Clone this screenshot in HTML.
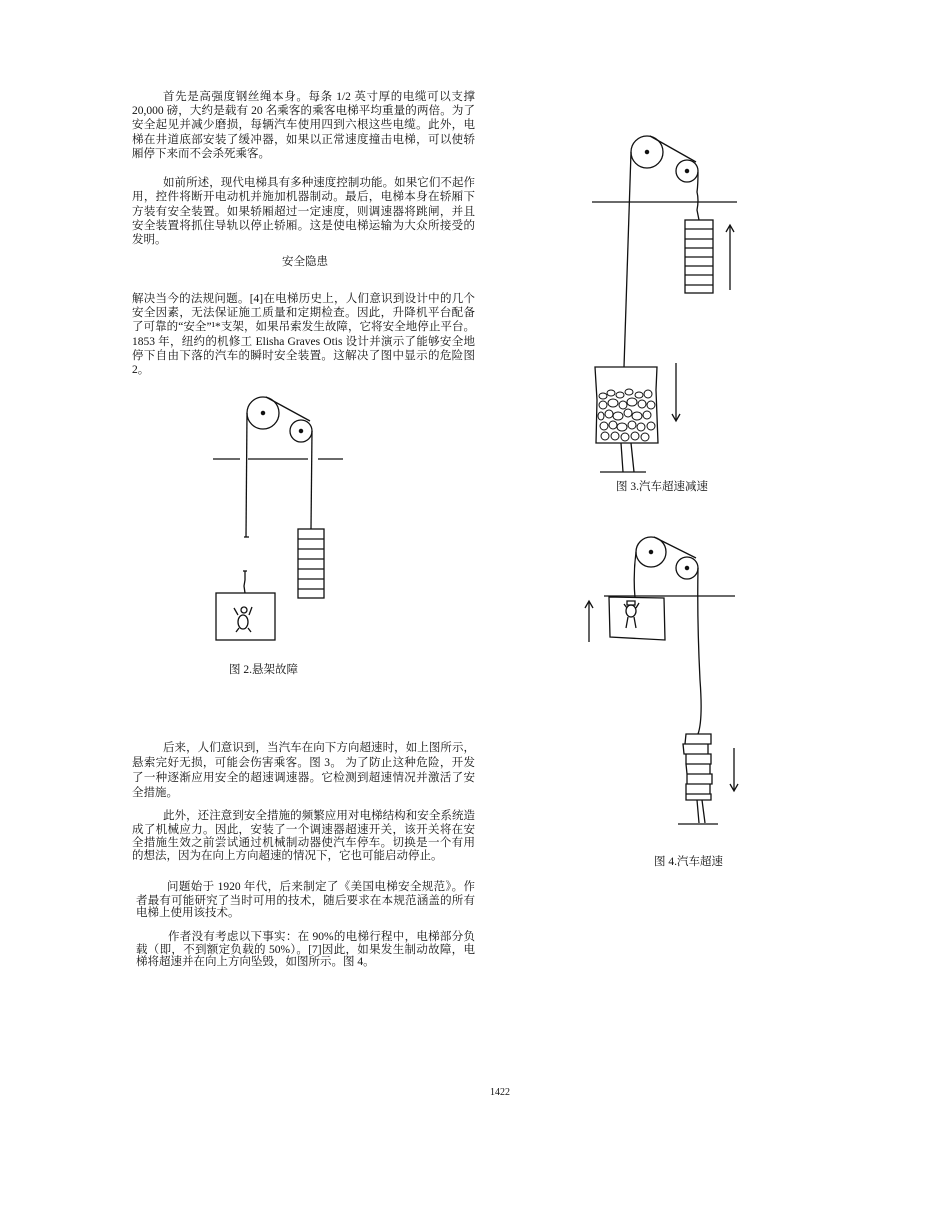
<!DOCTYPE html>
<html><head><meta charset="utf-8"><style>
body{margin:0;background:#fff;}
#p{position:relative;width:952px;height:1232px;overflow:hidden;font-family:"Liberation Serif","Noto Serif CJK SC","Noto Sans CJK SC",serif;font-size:11.5px;color:#111;}
.l{position:absolute;white-space:nowrap;line-height:14px;height:14px;}
.j{text-align:justify;text-align-last:justify;white-space:normal;overflow:hidden;}
svg{position:absolute;left:0;top:0;}
</style></head><body><div id="p">
<div class="l j" style="left:163px;top:90px;width:312px">首先是高强度钢丝绳本身。每条 1/2 英寸厚的电缆可以支撑</div>
<div class="l j" style="left:132px;top:104px;width:343px">20,000 磅，大约是载有 20 名乘客的乘客电梯平均重量的两倍。为了</div>
<div class="l j" style="left:132px;top:118px;width:343px">安全起见并减少磨损，每辆汽车使用四到六根这些电缆。此外，电</div>
<div class="l j" style="left:132px;top:133px;width:343px">梯在井道底部安装了缓冲器，如果以正常速度撞击电梯，可以使轿</div>
<div class="l" style="left:132px;top:147px">厢停下来而不会杀死乘客。</div>

<div class="l j" style="left:163px;top:176px;width:312px">如前所述，现代电梯具有多种速度控制功能。如果它们不起作</div>
<div class="l j" style="left:132px;top:190px;width:343px">用，控件将断开电动机并施加机器制动。最后，电梯本身在轿厢下</div>
<div class="l j" style="left:132px;top:205px;width:343px">方装有安全装置。如果轿厢超过一定速度，则调速器将跳闸，并且</div>
<div class="l j" style="left:132px;top:219px;width:343px">安全装置将抓住导轨以停止轿厢。这是使电梯运输为大众所接受的</div>
<div class="l" style="left:132px;top:233px">发明。</div>

<div class="l" style="left:282px;top:255px">安全隐患</div>

<div class="l j" style="left:132px;top:292px;width:343px">解决当今的法规问题。[4]在电梯历史上，人们意识到设计中的几个</div>
<div class="l j" style="left:132px;top:306px;width:343px">安全因素，无法保证施工质量和定期检查。因此，升降机平台配备</div>
<div class="l j" style="left:132px;top:320px;width:343px">了可靠的“安全”¹*支架，如果吊索发生故障，它将安全地停止平台。</div>
<div class="l j" style="left:132px;top:335px;width:343px">1853 年，纽约的机修工 Elisha Graves Otis 设计并演示了能够安全地</div>
<div class="l j" style="left:132px;top:349px;width:343px">停下自由下落的汽车的瞬时安全装置。这解决了图中显示的危险图</div>
<div class="l" style="left:132px;top:363px">2。</div>

<div class="l" style="left:229px;top:663px">图 2.悬架故障</div>
<div class="l" style="left:616px;top:480px">图 3.汽车超速减速</div>
<div class="l" style="left:654px;top:855px">图 4.汽车超速</div>

<div class="l j" style="left:163px;top:741px;width:312px">后来，人们意识到，当汽车在向下方向超速时，如上图所示，</div>
<div class="l j" style="left:132px;top:756px;width:343px">悬索完好无损，可能会伤害乘客。图 3。 为了防止这种危险，开发</div>
<div class="l j" style="left:132px;top:771px;width:343px">了一种逐渐应用安全的超速调速器。它检测到超速情况并激活了安</div>
<div class="l" style="left:132px;top:786px">全措施。</div>

<div class="l j" style="left:163px;top:809px;width:312px">此外，还注意到安全措施的频繁应用对电梯结构和安全系统造</div>
<div class="l j" style="left:132px;top:823px;width:343px">成了机械应力。因此，安装了一个调速器超速开关，该开关将在安</div>
<div class="l j" style="left:132px;top:836px;width:343px">全措施生效之前尝试通过机械制动器使汽车停车。切换是一个有用</div>
<div class="l" style="left:132px;top:849px">的想法，因为在向上方向超速的情况下，它也可能启动停止。</div>

<div class="l j" style="left:167px;top:880px;width:308px">问题始于 1920 年代，后来制定了《美国电梯安全规范》。作</div>
<div class="l j" style="left:136px;top:894px;width:339px">者最有可能研究了当时可用的技术，随后要求在本规范涵盖的所有</div>
<div class="l" style="left:136px;top:906px">电梯上使用该技术。</div>

<div class="l j" style="left:168px;top:930px;width:307px">作者没有考虑以下事实：在 90%的电梯行程中，电梯部分负</div>
<div class="l j" style="left:136px;top:943px;width:339px">载（即，不到额定负载的 50%）。[7]因此，如果发生制动故障，电</div>
<div class="l" style="left:136px;top:955px">梯将超速并在向上方向坠毁，如图所示。图 4。</div>

<div class="l" style="left:490px;top:1086px;font-size:10px">1422</div>

<svg width="952" height="1232" fill="none" stroke="#111" stroke-width="1.3">
<!-- Fig 2 -->
<circle cx="263" cy="413" r="16"/><circle cx="263" cy="413" r="1.6" fill="#111"/>
<circle cx="301" cy="431" r="11"/><circle cx="301" cy="431" r="1.6" fill="#111"/>
<line x1="266" y1="397" x2="310" y2="421"/>
<line x1="213" y1="459" x2="240" y2="459"/><line x1="248" y1="459" x2="308" y2="459"/><line x1="318" y1="459" x2="343" y2="459"/>
<line x1="247" y1="413" x2="246" y2="537"/><line x1="244" y1="537" x2="249" y2="537"/>
<line x1="312" y1="431" x2="311" y2="529"/>
<rect x="298" y="529" width="26" height="69"/>
<path d="M298 539H324M298 549H324M298 559H324M298 569H324M298 579H324M298 589H324"/>
<path d="M245 571V580L244 586L245 593"/><line x1="243" y1="571" x2="247" y2="571"/>
<rect x="216" y="593" width="59" height="47"/>
<ellipse cx="243" cy="622" rx="5" ry="7"/><circle cx="244" cy="610" r="3"/>
<path d="M234 608L238 615M252 607L249 615M239 628L236 632M248 628L251 632"/>
<!-- Fig 3 -->
<circle cx="647" cy="152" r="16"/><circle cx="647" cy="152" r="1.6" fill="#111"/>
<circle cx="687" cy="171" r="11"/><circle cx="687" cy="171" r="1.6" fill="#111"/>
<line x1="650" y1="136" x2="696" y2="162"/>
<line x1="592" y1="202" x2="737" y2="202"/>
<line x1="631" y1="152" x2="624" y2="367"/>
<path d="M698 172Q698 185 697 192Q699 200 697 210Q698 215 699 220"/>
<rect x="685" y="220" width="28" height="73"/>
<path d="M685 229H713M685 239H713M685 248H713M685 257H713M685 266H713M685 275H713M685 285H713"/>
<line x1="730" y1="290" x2="730" y2="226"/><path d="M726 232L730 225L734 232"/>
<path d="M595 367H657L656 390L658 443H596L597 400Z"/>
<g stroke-width="1">
<ellipse cx="603" cy="396" rx="4" ry="3"/><ellipse cx="611" cy="393" rx="4" ry="3"/><ellipse cx="620" cy="395" rx="4" ry="3"/><ellipse cx="629" cy="392" rx="4" ry="3"/><ellipse cx="639" cy="395" rx="4" ry="3"/><ellipse cx="648" cy="394" rx="4" ry="4"/>
<ellipse cx="603" cy="405" rx="4" ry="4"/><ellipse cx="613" cy="403" rx="5" ry="4"/><ellipse cx="623" cy="405" rx="4" ry="4"/><ellipse cx="632" cy="402" rx="5" ry="4"/><ellipse cx="642" cy="404" rx="4" ry="4"/><ellipse cx="651" cy="405" rx="4" ry="4"/>
<ellipse cx="601" cy="416" rx="3" ry="4"/><ellipse cx="609" cy="414" rx="4" ry="4"/><ellipse cx="618" cy="416" rx="5" ry="4"/><ellipse cx="628" cy="413" rx="4" ry="4"/><ellipse cx="637" cy="416" rx="5" ry="4"/><ellipse cx="647" cy="415" rx="4" ry="4"/>
<ellipse cx="604" cy="426" rx="4" ry="4"/><ellipse cx="613" cy="425" rx="4" ry="4"/><ellipse cx="622" cy="427" rx="5" ry="4"/><ellipse cx="632" cy="425" rx="4" ry="4"/><ellipse cx="641" cy="427" rx="4" ry="4"/><ellipse cx="651" cy="426" rx="4" ry="4"/>
<ellipse cx="605" cy="436" rx="4" ry="4"/><ellipse cx="615" cy="436" rx="4" ry="4"/><ellipse cx="625" cy="437" rx="4" ry="4"/><ellipse cx="635" cy="436" rx="4" ry="4"/><ellipse cx="645" cy="437" rx="4" ry="4"/>
</g>
<line x1="676" y1="363" x2="676" y2="420"/><path d="M672 414L676 421L680 414"/>
<path d="M621 443L623 472M631 443L634 472"/><line x1="600" y1="472" x2="646" y2="472"/>
<!-- Fig 4 -->
<circle cx="651" cy="552" r="15"/><circle cx="651" cy="552" r="1.6" fill="#111"/>
<circle cx="687" cy="568" r="11"/><circle cx="687" cy="568" r="1.6" fill="#111"/>
<line x1="654" y1="537" x2="696" y2="558"/>
<line x1="604" y1="596" x2="735" y2="596"/>
<path d="M636 552Q633 575 635 598"/>
<path d="M609 597L664 598L665 640L610 637Z"/>
<ellipse cx="631" cy="611" rx="5" ry="6"/><path d="M627 601h8v4h-8z"/><path d="M628 617L626 628M634 617L636 628M624 604L627 608M639 603L636 608"/>
<line x1="589" y1="642" x2="589" y2="602"/><path d="M585 608L589 601L593 608"/>
<path d="M698 568Q697 620 700 680Q703 720 698 734"/>
<path d="M686 734H711V744H685Z M683 744H708V754H684Z M686 754H711V764H686Z M686 764H710V774H687Z M687 774H712V784H687Z M686 784H710V794H686Z M686 794H711V800H686Z"/>
<line x1="734" y1="748" x2="734" y2="790"/><path d="M730 784L734 791L738 784"/>
<path d="M697 800L699 823M702 800L705 823"/><line x1="678" y1="824" x2="718" y2="824"/>
</svg>
</div></body></html>
